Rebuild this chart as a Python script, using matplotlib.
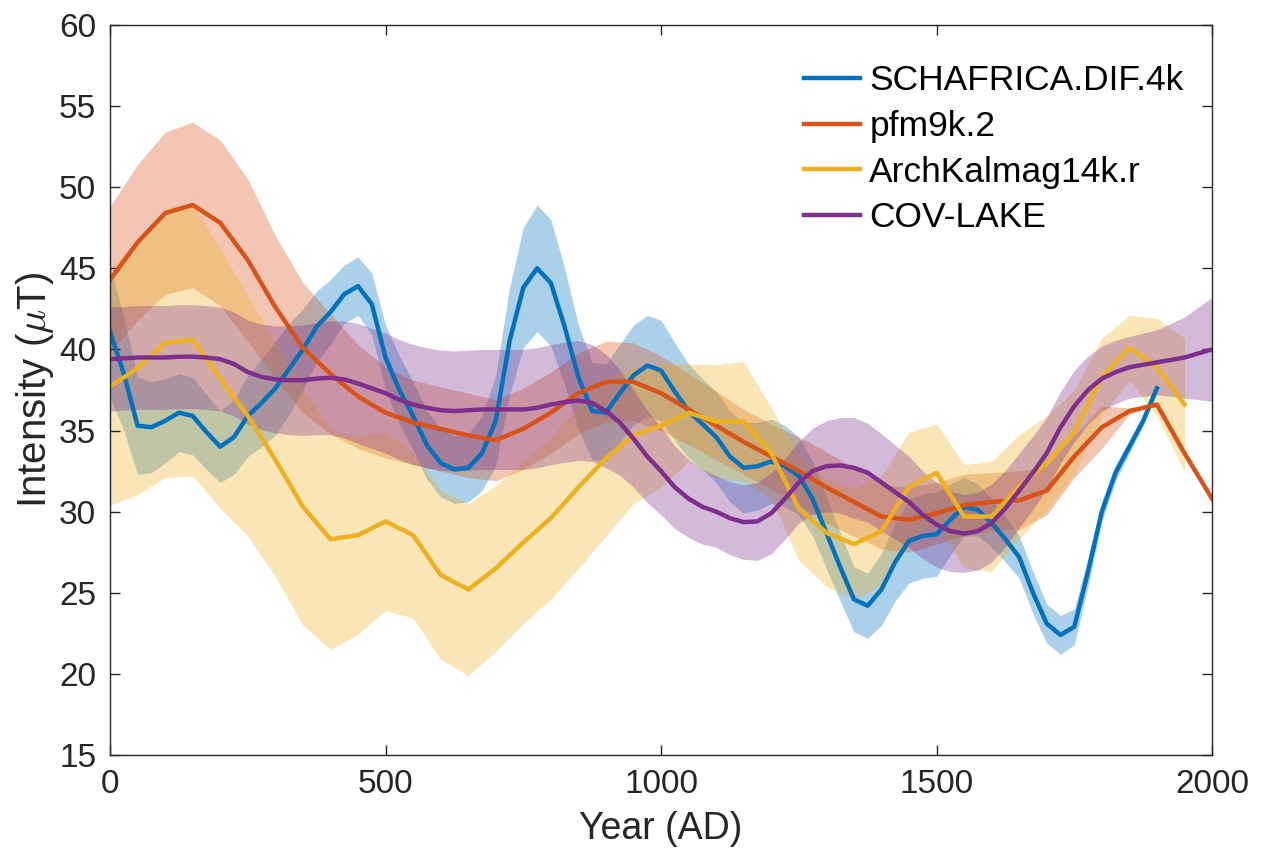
import numpy as np
import matplotlib.pyplot as plt

plt.rcParams['font.family'] = ['Liberation Sans', 'DejaVu Sans']
plt.rcParams['mathtext.fontset'] = 'cm'

# SCHAFRICA.DIF.4k (25-yr steps, 0-1900)
yr_sch = np.arange(0, 1901, 25)
f_sch = [41.1, 38.5, 35.3, 35.2, 35.6, 36.1, 35.9, 34.9, 34.0, 34.6,
         35.9, 36.7, 37.6, 38.8, 40.0, 41.4, 42.3, 43.4, 43.9, 42.8,
         39.5, 37.5, 35.9, 34.1, 33.0, 32.6, 32.7, 33.6, 35.6, 40.5,
         43.8, 45.0, 44.1, 41.4, 38.3, 36.2, 36.1, 37.3, 38.4, 39.0,
         38.7, 37.4, 36.2, 35.4, 34.6, 33.4, 32.7, 32.8, 33.1, 32.8,
         32.2, 30.8, 28.7, 26.6, 24.6, 24.2, 25.2, 26.9, 28.2, 28.5,
         28.6, 29.5, 30.3, 30.1, 29.3, 28.3, 27.2, 25.0, 23.1, 22.4,
         22.9, 26.3, 30.0, 32.4, 34.0, 35.6, 37.6]
s_sch = [4.0, 3.5, 3.0, 2.8, 2.6, 2.4, 2.4, 2.3, 2.2, 2.3,
         2.5, 2.7, 2.9, 2.8, 2.5, 2.2, 2.0, 1.8, 1.8, 1.9,
         2.0, 2.1, 2.1, 2.1, 2.1, 2.1, 2.1, 2.3, 2.8, 3.3,
         3.7, 3.9, 3.9, 3.6, 3.2, 3.0, 3.0, 3.0, 3.1, 3.1,
         3.1, 3.0, 2.9, 2.8, 2.8, 2.8, 2.8, 2.7, 2.6, 2.5,
         2.4, 2.3, 2.2, 2.1, 2.0, 2.0, 2.2, 2.4, 2.6, 2.6,
         2.6, 2.2, 1.8, 1.6, 1.5, 1.4, 1.3, 1.3, 1.2, 1.2,
         1.1, 0.9, 0.6, 0.5, 0.4, 0.3, 0.3]

# pfm9k.2 (50-yr steps, 0-2000)
yr_pfm = np.arange(0, 2001, 50)
f_pfm = [44.3, 46.6, 48.4, 48.9, 47.8, 45.5, 42.6, 40.1, 38.5, 37.1,
         36.1, 35.5, 35.1, 34.7, 34.4, 35.1, 36.1, 37.3, 38.0, 38.0,
         37.3, 36.3, 35.3, 34.3, 33.4, 32.5, 31.5, 30.6, 29.7, 29.5,
         29.9, 30.4, 30.6, 30.7, 31.3, 33.4, 35.2, 36.2, 36.6, 33.6,
         30.8]
s_pfm = [4.5, 4.8, 5.0, 5.1, 5.1, 5.0, 4.4, 4.0, 3.7, 3.2,
         2.8, 2.6, 2.6, 2.6, 2.5, 2.5, 2.5, 2.5, 2.5, 2.4,
         2.3, 2.2, 2.1, 2.0, 2.0, 2.1, 2.2, 2.1, 2.0, 2.0,
         1.9, 1.9, 1.8, 1.8, 1.5, 1.3, 1.3, 0.2, 0.0, 0.0,
         0.0]

# ArchKalmag14k.r (50-yr steps, 0-1950)
yr_akm = np.arange(0, 1951, 50)
f_akm = [37.7, 38.85, 40.4, 40.6, 38.2, 35.9, 33.2, 30.3, 28.3, 28.55,
         29.4, 28.55, 26.1, 25.2, 26.5, 28.1, 29.6, 31.5, 33.3, 34.7,
         35.3, 36.1, 35.55, 35.55, 33.6, 30.2, 28.7, 28.0, 28.8, 31.5,
         32.4, 29.7, 29.7, 31.55, 33.0, 34.9, 38.3, 40.1, 38.9, 36.6]
s_akm = [7.3, 7.8, 8.3, 8.4, 8.0, 7.4, 7.2, 7.3, 6.8, 6.1,
         5.5, 5.1, 5.2, 5.3, 5.1, 5.0, 5.0, 5.0, 4.8, 4.2,
         3.8, 3.0, 3.5, 3.7, 2.8, 3.2, 3.3, 3.4, 3.4, 3.4,
         3.0, 3.2, 3.4, 3.2, 2.9, 2.6, 2.4, 2.0, 3.0, 4.1]

# COV-LAKE (25-yr steps, 0-2000)
yr_cov = np.arange(0, 2001, 25)
f_cov = [39.4, 39.45, 39.5, 39.5, 39.5, 39.55, 39.55, 39.5, 39.4, 39.1,
         38.6, 38.3, 38.15, 38.1, 38.1, 38.2, 38.25, 38.15, 37.9, 37.6,
         37.3, 36.9, 36.6, 36.4, 36.25, 36.2, 36.25, 36.3, 36.3, 36.3,
         36.3, 36.4, 36.6, 36.75, 36.85, 36.7, 36.2, 35.5, 34.5, 33.4,
         32.5, 31.5, 30.8, 30.3, 30.0, 29.6, 29.35, 29.4, 29.9, 30.8,
         31.8, 32.5, 32.8, 32.85, 32.7, 32.4, 31.8, 31.2, 30.6, 29.8,
         29.2, 28.8, 28.65, 28.8, 29.3, 30.2, 31.3, 32.4, 33.6, 35.2,
         36.5, 37.5, 38.2, 38.6, 38.9, 39.05, 39.2, 39.35, 39.5, 39.75,
         40.0]
s_cov = [3.2, 3.2, 3.2, 3.2, 3.2, 3.2, 3.2, 3.2, 3.2, 3.2,
         3.2, 3.25, 3.3, 3.35, 3.4, 3.45, 3.5, 3.6, 3.7, 3.7,
         3.7, 3.7, 3.7, 3.7, 3.7, 3.7, 3.7, 3.7, 3.7, 3.7,
         3.7, 3.7, 3.7, 3.7, 3.7, 3.6, 3.5, 3.25, 3.0, 2.85,
         2.7, 2.55, 2.4, 2.3, 2.2, 2.25, 2.3, 2.4, 2.5, 2.5,
         2.5, 2.65, 2.8, 2.95, 3.1, 3.05, 3.0, 2.9, 2.8, 2.7,
         2.6, 2.5, 2.4, 2.4, 2.4, 2.35, 2.3, 2.25, 2.2, 2.2,
         2.2, 2.1, 2.0, 1.95, 1.9, 1.95, 2.0, 2.25, 2.5, 2.85,
         3.2]

names = ['SCHAFRICA.DIF.4k', 'pfm9k.2', 'ArchKalmag14k.r', 'COV-LAKE']
colors = ['#0072BD', '#D95319', '#EDB120', '#7E2F8E']
series = [(yr_sch, f_sch, s_sch), (yr_pfm, f_pfm, s_pfm),
          (yr_akm, f_akm, s_akm), (yr_cov, f_cov, s_cov)]

fig = plt.figure(figsize=(12.62, 8.56), dpi=100)
ax = fig.add_axes([0.0872, 0.118, 0.8732, 0.8529])

# bands first, lines on top
for (x, f, s), c in zip(series, colors):
    f = np.array(f)
    s = np.array(s)
    ax.fill_between(x, f - s, f + s, color=c, alpha=0.33, lw=0)
for (x, f, s), c, n in zip(series, colors, names):
    ax.plot(x, f, color=c, lw=3.2, label=n)

ax.set_xlim(0, 2000)
ax.set_ylim(15, 60)
ax.set_xticks([0, 500, 1000, 1500, 2000])
ax.set_yticks(np.arange(15, 61, 5))
ax.tick_params(direction='in', length=7, width=1, labelsize=24,
               top=True, right=True, colors='#262626', pad=10)
for sp in ax.spines.values():
    sp.set_color('#262626')
    sp.set_linewidth(1)

ax.set_xlabel('Year (AD)', fontsize=27, color='#262626', labelpad=8)
ax.set_ylabel(r'Intensity ($\mu$T)', fontsize=29, color='#262626', labelpad=2)

ax.legend(loc='upper right', bbox_to_anchor=(1.0, 0.985), frameon=False,
          fontsize=25.5, handlelength=1.6, handletextpad=0.25,
          labelspacing=0.36, borderaxespad=0.4)

fig.savefig('out.png', dpi=100)
